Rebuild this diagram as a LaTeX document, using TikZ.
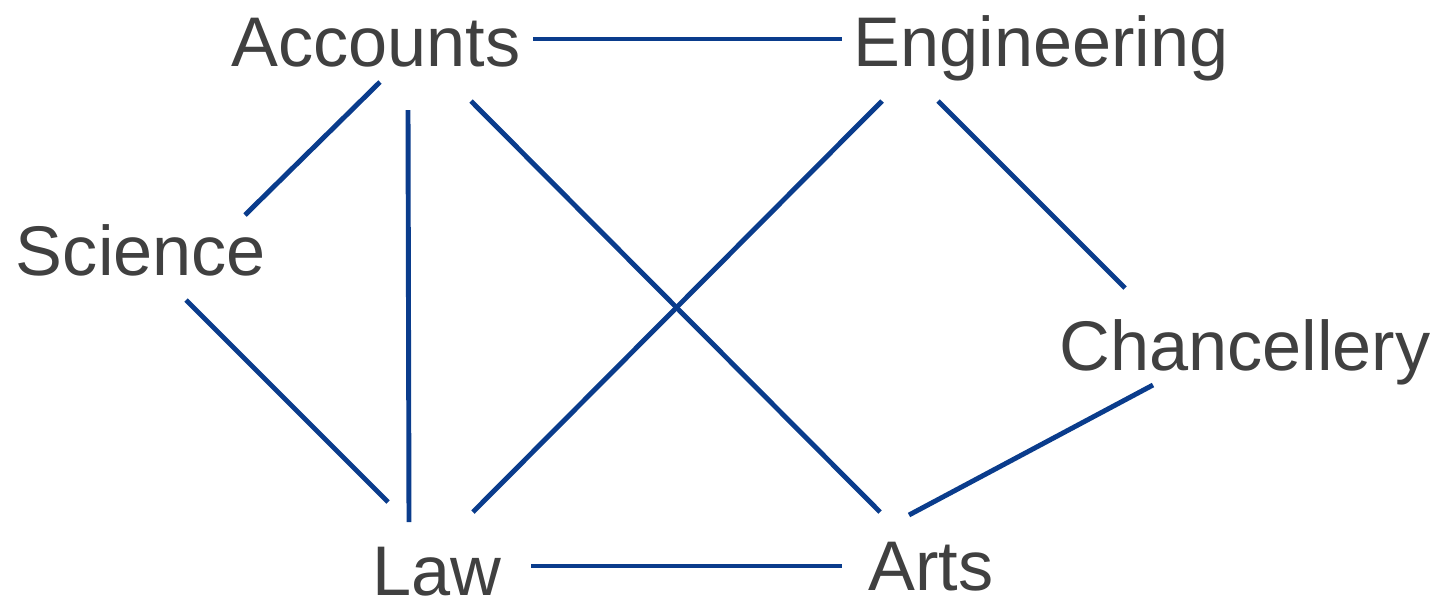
\documentclass[tikz,border=0pt]{standalone}
\usepackage{fontspec}
\setmainfont{Liberation Sans}
\definecolor{txt}{HTML}{404040}
\definecolor{edge}{HTML}{0A3C8C}
\begin{document}
\begin{tikzpicture}[x=0.02cm,y=-0.02cm,
  lbl/.style={anchor=base,inner sep=0pt,text=txt,font=\fontsize{40}{48}\selectfont},
  link/.style={draw=edge,line width=2.8pt}]
\useasboundingbox (0,0) rectangle (1443,600);
\node[lbl] (acc) at (376,66) {Accounts};
\node[lbl] (eng) at (1041,66) {Engineering};
\node[lbl] (sci) at (141,275) {Science};
\node[lbl] (cha) at (1245,370) {Chancellery};
\node[lbl] (law) at (437,595) {Law};
\node[lbl] (art) at (931,590) {Arts};
% connector end points
\coordinate (a1) at (533,39);  \coordinate (e1) at (842,39);
\coordinate (a2) at (380,82);  \coordinate (s1) at (245,215);
\coordinate (a3) at (408,110); \coordinate (l1) at (409,522);
\coordinate (a4) at (471,101); \coordinate (r1) at (880,512);
\coordinate (e2) at (882,101); \coordinate (l2) at (473,512);
\coordinate (e3) at (938,101); \coordinate (c1) at (1125,288);
\coordinate (s2) at (186,300); \coordinate (l3) at (388,502);
\coordinate (c2) at (1153,385);\coordinate (r2) at (909,515);
\coordinate (l4) at (531,566); \coordinate (r3) at (842,566);
\draw[link] (a1) -- (e1);
\draw[link] (a2) -- (s1);
\draw[link] (a3) -- (l1);
\draw[link] (a4) -- (r1);
\draw[link] (e2) -- (l2);
\draw[link] (e3) -- (c1);
\draw[link] (s2) -- (l3);
\draw[link] (c2) -- (r2);
\draw[link] (l4) -- (r3);
\end{tikzpicture}
\end{document}
